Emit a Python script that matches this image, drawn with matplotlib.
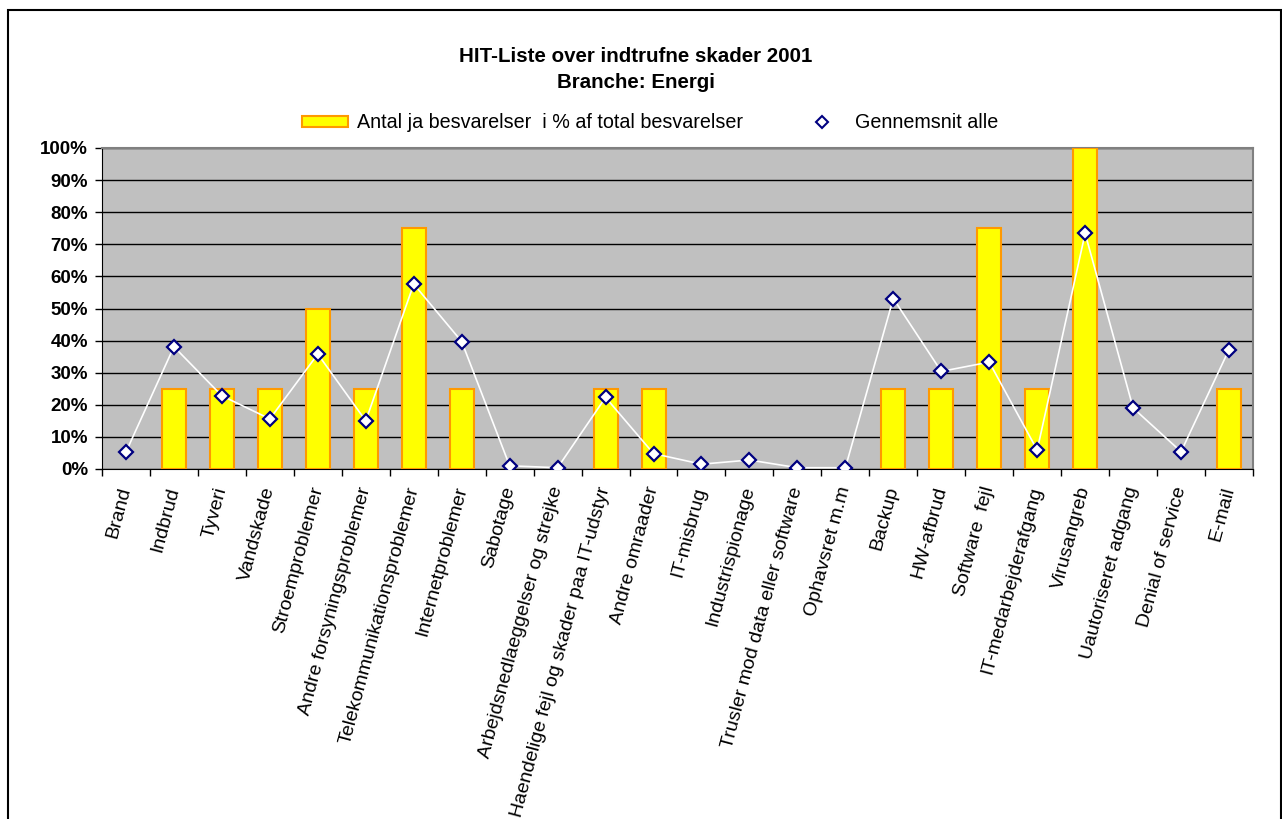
import matplotlib.pyplot as plt
from matplotlib.patches import Rectangle
from matplotlib.lines import Line2D
import numpy as np

plt.rcParams['font.family'] = ['Liberation Sans', 'DejaVu Sans']

# Kategorier og værdier
kategorier = ['Brand', 'Indbrud', 'Tyveri', 'Vandskade', 'Stroemproblemer',
              'Andre forsyningsproblemer', 'Telekommunikationsproblemer',
              'Internetproblemer', 'Sabotage', 'Arbejdsnedlaeggelser og strejke',
              'Haendelige fejl og skader paa IT-udstyr', 'Andre omraader',
              'IT-misbrug', 'Industrispionage', 'Trusler mod data eller software',
              'Ophavsret m.m', 'Backup', 'HW-afbrud', 'Software  fejl',
              'IT-medarbejderafgang', 'Virusangreb', 'Uautoriseret adgang',
              'Denial of service', 'E-mail']
andel_ja = [0, 25, 25, 25, 50, 25, 75, 25, 0, 0, 25, 25,
            0, 0, 0, 0, 25, 25, 75, 25, 100, 0, 0, 25]
gennemsnit = [5.3, 38.1, 22.8, 15.6, 35.8, 15.0, 57.6, 39.7, 1.0, 0.4, 22.3, 4.8,
              1.5, 2.8, 0.4, 0.4, 53.1, 30.4, 33.3, 5.9, 73.4, 19.0, 5.4, 37.2]

fig = plt.figure(figsize=(12.82, 8.19), dpi=100)
ax = fig.add_axes([102/1282, 1 - 469/819, (1253 - 102)/1282, (469 - 148)/819])

x = np.arange(len(kategorier))
ax.set_facecolor('#C0C0C0')
kanter = ['#FF9900' if v > 0 else 'none' for v in andel_ja]
ax.bar(x, andel_ja, width=0.5, color='#FFFF00', edgecolor=kanter, linewidth=1.5, zorder=3)
ax.plot(x, gennemsnit, color='white', linewidth=1.2, marker='D', markersize=7.5,
        markerfacecolor='white', markeredgecolor='#000080', markeredgewidth=1.6, zorder=4)

ax.set_xlim(-0.5, len(kategorier) - 0.5)
ax.set_ylim(0, 100)
ax.set_yticks(np.arange(0, 101, 10))
ax.set_yticklabels([f'{v}%' for v in range(0, 101, 10)], fontsize=13.5, fontweight='bold')
ax.yaxis.grid(True, color='black', linewidth=1, zorder=1)
ax.set_axisbelow(True)
ax.tick_params(axis='y', length=5, width=1, pad=5)

ax.set_xticks(x)
ax.set_xticklabels(kategorier, rotation=75, ha='right', va='center',
                   rotation_mode='anchor', fontsize=14)
ax.tick_params(axis='x', which='major', length=0, pad=13)
ax.set_xticks(np.arange(-0.5, len(kategorier), 1), minor=True)
ax.tick_params(axis='x', which='minor', length=5, width=1)

for side in ['top', 'right']:
    ax.spines[side].set_color('#808080')
    ax.spines[side].set_linewidth(1.5)
for side in ['left', 'bottom']:
    ax.spines[side].set_color('black')

# Titel
fig.text(636/1282, 1 - 56/819, 'HIT-Liste over indtrufne skader 2001', ha='center', va='center',
         fontsize=14.8, fontweight='bold')
fig.text(636/1282, 1 - 82/819, 'Branche: Energi', ha='center', va='center',
         fontsize=14.8, fontweight='bold')

# Forklaring
handles = [Rectangle((0, 0), 1, 1, facecolor='#FFFF00', edgecolor='#FF9900', linewidth=1.5),
           Line2D([], [], linestyle='none', marker='D', markersize=6.5,
                  markerfacecolor='white', markeredgecolor='#000080', markeredgewidth=1.5)]
fig.legend(handles, ['Antal ja besvarelser  i % af total besvarelser', 'Gennemsnit alle'],
           loc='center', bbox_to_anchor=(650/1282, 1 - 123/819), ncol=2, frameon=False,
           fontsize=14.2, handlelength=2.33, handleheight=0.52, handletextpad=0.46,
           columnspacing=2.85, borderpad=0, borderaxespad=0)

# Ramme om diagrammet
fig.patches.append(Rectangle((8/1282, -0.02), (1281 - 8)/1282, 1.02 - 10/819,
                             transform=fig.transFigure, fill=False,
                             edgecolor='black', linewidth=1.5))

fig.savefig('out.png', dpi=100)
